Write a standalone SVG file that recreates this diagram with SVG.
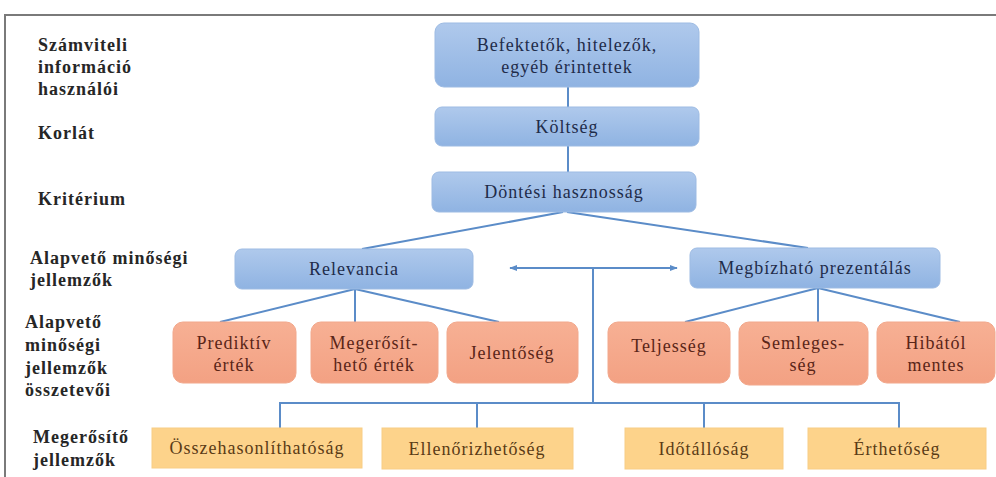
<svg xmlns="http://www.w3.org/2000/svg" width="996" height="477" viewBox="0 0 996 477" font-family="Liberation Serif, DejaVu Serif, serif">
<defs>
<linearGradient id="gb" x1="0" y1="0" x2="0" y2="1"><stop offset="0" stop-color="#afc9ec"/><stop offset="1" stop-color="#8fb3e2"/></linearGradient>
<linearGradient id="go" x1="0" y1="0" x2="0" y2="1"><stop offset="0" stop-color="#f7b094"/><stop offset="1" stop-color="#f3a183"/></linearGradient>
<marker id="ah" viewBox="0 0 10 10" refX="9" refY="5" markerWidth="8" markerHeight="8" orient="auto-start-reverse" markerUnits="userSpaceOnUse"><path d="M0,1 L10,5 L0,9 z" fill="#5b8cc8"/></marker>
<style>
.frame{fill:none;stroke:#7a7a7a;stroke-width:2}
.lbl{font-weight:bold;font-size:18px;letter-spacing:1px;fill:#262626}
.bb{fill:url(#gb);stroke:#9dbbe3;stroke-width:1}
.ob{fill:url(#go);stroke:#f2a88c;stroke-width:1}
.yb{fill:#fdd38b;stroke:#f8cd85;stroke-width:1}
.tb{font-size:18px;letter-spacing:1px;fill:#1f2c4a;text-anchor:middle}
.to{font-size:18px;letter-spacing:1px;fill:#5a2518;text-anchor:middle}
.ty{font-size:18px;letter-spacing:1px;fill:#5a3b16;text-anchor:middle}
.c{fill:none;stroke:#5b8cc8;stroke-width:2}
</style>
</defs>
<rect width="996" height="477" fill="#ffffff"/>
<path class="frame" d="M5,477 V15 H996"/>
<g id="labels">
<text class="lbl" x="38" y="51">Számviteli</text>
<text class="lbl" x="38" y="73">információ</text>
<text class="lbl" x="38" y="95">használói</text>
<text class="lbl" x="38" y="139">Korlát</text>
<text class="lbl" x="38" y="205">Kritérium</text>
<text class="lbl" x="30" y="264">Alapvető minőségi</text>
<text class="lbl" x="30" y="286">jellemzők</text>
<text class="lbl" x="25" y="328">Alapvető</text>
<text class="lbl" x="25" y="351">minőségi</text>
<text class="lbl" x="25" y="374">jellemzők</text>
<text class="lbl" x="25" y="396">összetevői</text>
<text class="lbl" x="33" y="443">Megerősítő</text>
<text class="lbl" x="33" y="466">jellemzők</text>
</g>
<g id="connectors">
<path class="c" d="M568,87 V107"/>
<path class="c" d="M568,146 V172"/>
<path class="c" d="M563,212 L362,249"/>
<path class="c" d="M567,212 L808,248"/>
<path class="c" d="M355,289 L220,322"/>
<path class="c" d="M355,289 V322"/>
<path class="c" d="M355,289 L499,322"/>
<path class="c" d="M818,288 L685,322"/>
<path class="c" d="M818,288 V322"/>
<path class="c" d="M818,288 L960,322"/>
<path class="c" d="M510,268 H677" marker-start="url(#ah)" marker-end="url(#ah)"/>
<path class="c" d="M593,268 V403"/>
<path class="c" d="M280,428 V403 H899 V428"/>
<path class="c" d="M477,403 V428"/>
<path class="c" d="M704,403 V428"/>
</g>
<g id="n-befektetok"><rect class="bb" x="435" y="23" width="264" height="64" rx="9"/><text class="tb" x="567" y="51">Befektetők, hitelezők,</text><text class="tb" x="567" y="73">egyéb érintettek</text></g>
<g id="n-koltseg"><rect class="bb" x="435" y="107" width="264" height="39" rx="7"/><text class="tb" x="567" y="133">Költség</text></g>
<g id="n-dontesi"><rect class="bb" x="432" y="172" width="264" height="40" rx="7"/><text class="tb" x="564" y="198">Döntési hasznosság</text></g>
<g id="n-relevancia"><rect class="bb" x="235" y="249" width="238" height="40" rx="7"/><text class="tb" x="354" y="275">Relevancia</text></g>
<g id="n-megbizhato"><rect class="bb" x="690" y="248" width="250" height="40" rx="7"/><text class="tb" x="815" y="274">Megbízható prezentálás</text></g>
<g id="n-prediktiv"><rect class="ob" x="173" y="322" width="123" height="61" rx="10"/><text class="to" x="234" y="349">Prediktív</text><text class="to" x="234" y="371">érték</text></g>
<g id="n-megerosit"><rect class="ob" x="311" y="322" width="127" height="61" rx="10"/><text class="to" x="374" y="349">Megerősít-</text><text class="to" x="374" y="371">hető érték</text></g>
<g id="n-jelentoseg"><rect class="ob" x="447" y="322" width="131" height="61" rx="10"/><text class="to" x="512" y="359">Jelentőség</text></g>
<g id="n-teljesseg"><rect class="ob" x="608" y="322" width="122" height="61" rx="10"/><text class="to" x="669" y="352">Teljesség</text></g>
<g id="n-semleges"><rect class="ob" x="739" y="322" width="129" height="63" rx="10"/><text class="to" x="803" y="349">Semleges-</text><text class="to" x="803" y="371">ség</text></g>
<g id="n-hibatol"><rect class="ob" x="877" y="322" width="118" height="61" rx="10"/><text class="to" x="936" y="349">Hibától</text><text class="to" x="936" y="371">mentes</text></g>
<g id="n-osszehas"><rect class="yb" x="152" y="428" width="210" height="40"/><text class="ty" x="257" y="454">Összehasonlíthatóság</text></g>
<g id="n-ellenoriz"><rect class="yb" x="382" y="428" width="191" height="41"/><text class="ty" x="477" y="455">Ellenőrizhetőség</text></g>
<g id="n-idotallo"><rect class="yb" x="625" y="428" width="158" height="41"/><text class="ty" x="704" y="455">Időtállóság</text></g>
<g id="n-erthetoseg"><rect class="yb" x="808" y="428" width="178" height="41"/><text class="ty" x="897" y="455">Érthetőség</text></g>
</svg>
